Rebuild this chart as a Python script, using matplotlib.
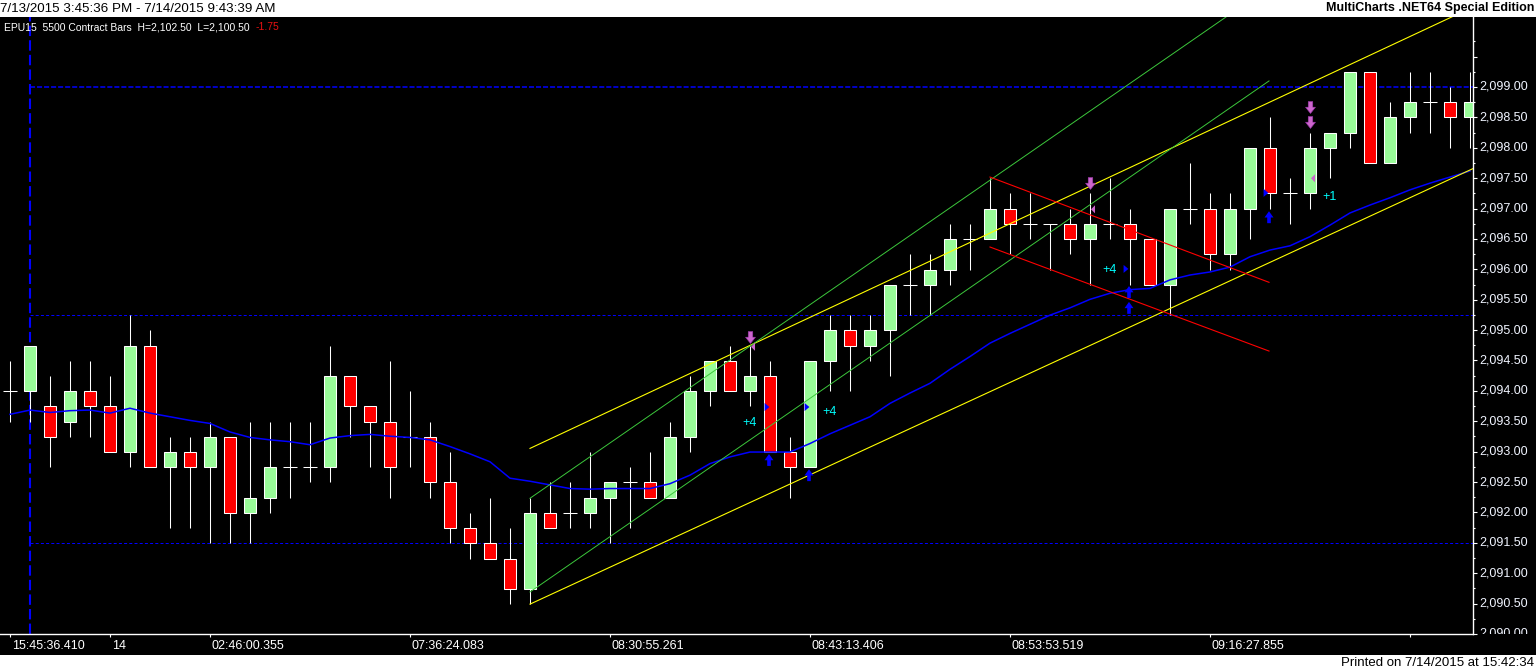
import numpy as np
import matplotlib
matplotlib.use("Agg")
import matplotlib.pyplot as plt
from matplotlib.path import Path
from matplotlib.patches import Rectangle
import matplotlib.transforms as mtrans

plt.rcParams['font.family'] = ['Liberation Sans', 'DejaVu Sans']

# ---------------- data ----------------
opens = [2094.0, 2094.0, 2093.75, 2093.5, 2094.0, 2093.75, 2093.0, 2094.75, 2092.75, 2093.0,
         2092.75, 2093.25, 2092.0, 2092.25, 2092.75, 2092.75, 2092.75, 2094.25, 2093.75, 2093.5,
         2093.25, 2093.25, 2092.5, 2091.75, 2091.5, 2091.25, 2090.75, 2092.0, 2092.0, 2092.0,
         2092.25, 2092.5, 2092.5, 2092.25, 2093.25, 2094.0, 2094.5, 2094.0, 2094.25, 2093.0,
         2092.75, 2094.5, 2095.0, 2094.75, 2095.0, 2095.75, 2095.75, 2096.0, 2096.5, 2096.5,
         2097.0, 2096.75, 2096.75, 2096.75, 2096.5, 2096.75, 2096.75, 2096.5, 2095.75, 2097.0,
         2097.0, 2096.25, 2097.0, 2098.0, 2097.25, 2097.25, 2098.0, 2098.25, 2099.25, 2097.75,
         2098.5, 2098.75, 2098.75, 2098.5]
highs = [2094.5, 2094.75, 2094.25, 2094.5, 2094.5, 2094.25, 2095.25, 2095.0, 2093.25, 2093.25,
         2093.5, 2093.25, 2093.5, 2093.5, 2093.5, 2093.5, 2094.75, 2094.25, 2093.75, 2094.5,
         2094.0, 2093.5, 2093.0, 2092.0, 2092.25, 2091.75, 2092.25, 2092.5, 2092.5, 2093.0,
         2092.5, 2092.75, 2093.0, 2093.5, 2094.25, 2094.5, 2094.75, 2094.75, 2094.5, 2093.25,
         2094.5, 2095.25, 2095.25, 2095.25, 2095.75, 2096.25, 2096.25, 2096.75, 2096.75, 2097.5,
         2097.25, 2097.25, 2096.75, 2097.0, 2097.25, 2097.5, 2097.0, 2096.5, 2097.0, 2097.75,
         2097.25, 2097.25, 2098.0, 2098.5, 2097.5, 2098.25, 2098.25, 2099.25, 2099.25, 2098.75,
         2099.25, 2099.25, 2099.0, 2099.25]
lows = [2093.5, 2093.5, 2092.75, 2093.25, 2093.25, 2093.0, 2092.75, 2092.75, 2091.75, 2091.75,
        2091.5, 2091.5, 2091.5, 2092.0, 2092.25, 2092.5, 2092.5, 2093.25, 2092.75, 2092.25,
        2092.75, 2092.25, 2091.5, 2091.25, 2091.25, 2090.5, 2090.5, 2091.75, 2091.75, 2091.75,
        2091.5, 2091.75, 2092.25, 2092.25, 2093.0, 2093.75, 2094.0, 2093.75, 2093.0, 2092.25,
        2092.75, 2094.0, 2094.0, 2094.5, 2094.25, 2095.25, 2095.25, 2095.75, 2096.0, 2096.5,
        2096.25, 2096.5, 2096.0, 2096.25, 2095.75, 2096.5, 2095.75, 2095.75, 2095.25, 2096.75,
        2096.0, 2096.0, 2096.5, 2097.0, 2096.75, 2097.0, 2097.5, 2098.0, 2097.75, 2097.75,
        2098.25, 2098.25, 2098.0, 2098.0]
closes = [2094.0, 2094.75, 2093.25, 2094.0, 2093.75, 2093.0, 2094.75, 2092.75, 2093.0, 2092.75,
          2093.25, 2092.0, 2092.25, 2092.75, 2092.75, 2092.75, 2094.25, 2093.75, 2093.5, 2092.75,
          2093.25, 2092.5, 2091.75, 2091.5, 2091.25, 2090.75, 2092.0, 2091.75, 2092.0, 2092.25,
          2092.5, 2092.5, 2092.25, 2093.25, 2094.0, 2094.5, 2094.0, 2094.25, 2093.0, 2092.75,
          2094.5, 2095.0, 2094.75, 2095.0, 2095.75, 2095.75, 2096.0, 2096.5, 2096.5, 2097.0,
          2096.75, 2096.75, 2096.75, 2096.5, 2096.75, 2096.75, 2096.5, 2095.75, 2097.0, 2097.0,
          2096.25, 2097.0, 2098.0, 2097.25, 2097.25, 2098.0, 2098.25, 2099.25, 2097.75, 2098.5,
          2098.75, 2098.75, 2098.5, 2098.75]
moving_avg = [2093.62, 2093.69, 2093.65, 2093.68, 2093.69, 2093.64, 2093.72, 2093.64, 2093.58, 2093.52,
              2093.47, 2093.33, 2093.24, 2093.20, 2093.17, 2093.12, 2093.23, 2093.27, 2093.29, 2093.26,
              2093.24, 2093.20, 2093.09, 2092.97, 2092.84, 2092.57, 2092.52, 2092.46, 2092.40, 2092.39,
              2092.40, 2092.40, 2092.40, 2092.48, 2092.62, 2092.81, 2092.92, 2093.00, 2093.00, 2093.00,
              2093.14, 2093.30, 2093.44, 2093.58, 2093.80, 2093.97, 2094.13, 2094.36, 2094.57, 2094.79,
              2094.95, 2095.10, 2095.25, 2095.37, 2095.51, 2095.61, 2095.67, 2095.69, 2095.83, 2095.91,
              2095.96, 2096.04, 2096.21, 2096.32, 2096.39, 2096.54, 2096.73, 2096.93, 2097.06, 2097.18,
              2097.31, 2097.42, 2097.52, 2097.62]

# trend lines: (bar, price) endpoints
yellow_upper = [(26, 2093.06), (75, 2100.60)]
yellow_lower = [(26, 2090.50), (75, 2097.94)]
green_upper = [(26, 2092.24), (62.95, 2100.64)]
green_lower = [(26, 2090.70), (62.95, 2099.10)]
red_upper = [(49, 2097.52), (62.95, 2095.79)]
red_lower = [(49, 2096.37), (62.95, 2094.66)]

# horizontal dashed levels
levels = [2099.0, 2095.25, 2091.5]
cursor_bar = 1

# signal markers
pink_down_x = [37, 54, 65, 65]
pink_down_y = [2094.89, 2097.42, 2098.42, 2098.67]
pink_left_x = [37.15, 54.15, 65.15]
pink_left_y = [2094.73, 2096.99, 2097.50]
blue_right_x = [37.85, 39.85, 55.8, 62.8]
blue_right_y = [2093.74, 2093.74, 2096.01, 2097.26]
blue_up_x = [37.95, 39.95, 55.95, 55.95, 62.95]
blue_up_y = [2092.87, 2092.62, 2095.63, 2095.37, 2096.86]
sig_text_x = [37.0, 41.0, 55.0, 66.0]
sig_text_y = [2093.48, 2093.65, 2095.99, 2097.19]
sig_text = ["+4", "+4", "+4", "+1"]

time_tick_bars = [0, 5, 10, 20, 30, 40, 50, 60, 70]
time_tick_labels = ["15:45:36.410", "14", "02:46:00.355", "07:36:24.083", "08:30:55.261",
                    "08:43:13.406", "08:53:53.519", "09:16:27.855", ""]
price_major = list(np.arange(2090.0, 2099.51, 0.5))
price_minor = list(np.arange(2090.25, 2099.80, 0.5))
price_labels = [2090.0, 2090.5, 2091.0, 2091.5, 2092.0, 2092.5, 2093.0, 2093.5, 2094.0,
                2094.5, 2095.0, 2095.5, 2096.0, 2096.5, 2097.0, 2097.5, 2098.0, 2098.5, 2099.0]

# ---------------- figure ----------------
W, H = 1536, 670
fig = plt.figure(figsize=(W / 100, H / 100), dpi=100, facecolor='black')

def fx(px):
    return px / W

def fy(py):
    return 1 - py / H

# white header and footer bands
fig.patches.append(Rectangle((0, fy(17)), 1, 17 / H, transform=fig.transFigure,
                             facecolor='white', edgecolor='none', zorder=0))
fig.patches.append(Rectangle((0, 0), 1, 15 / H, transform=fig.transFigure,
                             facecolor='white', edgecolor='none', zorder=0))

ax = fig.add_axes([0, fy(634), fx(1473), (634 - 17) / H])
ax.set_facecolor('black')
ax.set_xlim(-0.5, 73.15)
ax.set_ylim(2090.009, 2100.151)

x = np.arange(len(opens))
o = np.array(opens); h = np.array(highs); l = np.array(lows); c = np.array(closes)

# dashed levels and cursor (behind the bars)
ax.hlines(levels[0], cursor_bar, 80, color='#0000FF', lw=1.1,
          linestyles=[(0, (3.3, 1.3))], zorder=1)
ax.hlines(levels[1:], cursor_bar, 80, color='#0000FF', lw=0.72,
          linestyles=[(0, (3, 2.2))], zorder=1)
ax.axvline(cursor_bar, color='#0000FF', lw=1.5, linestyle=(0, (5, 2)), zorder=1)

# wicks
ax.vlines(x, l, h, color='white', lw=0.75, zorder=2)
# bodies
up = c > o
dn = c < o
dj = c == o
ax.bar(x[up], (c - o)[up], bottom=o[up], width=0.57, color='#98FB98',
       edgecolor='white', linewidth=0.75, zorder=3)
ax.bar(x[dn], (o - c)[dn], bottom=c[dn], width=0.57, color='#FF0000',
       edgecolor='white', linewidth=0.75, zorder=3)
ax.hlines(c[dj], x[dj] - 0.35, x[dj] + 0.35, color='white', lw=0.75, zorder=3)

# moving average
ax.plot(x, moving_avg, color='#0000FF', lw=1.1, zorder=5)

# trend lines
for seg, col, lw in [(yellow_upper, '#FFFF00', 0.8), (yellow_lower, '#FFFF00', 0.8),
                     (green_upper, '#3CC83C', 0.7), (green_lower, '#3CC83C', 0.7),
                     (red_upper, '#FF0000', 0.8), (red_lower, '#FF0000', 0.8)]:
    ax.plot([seg[0][0], seg[1][0]], [seg[0][1], seg[1][1]], color=col, lw=lw, zorder=5)

# markers
down_arrow = Path([(-0.38, 1), (0.38, 1), (0.38, 0.05), (0.83, 0.05), (0, -1),
                   (-0.83, 0.05), (-0.38, 0.05), (-0.38, 1)], closed=True)
up_arrow = Path([(-0.3, -1), (0.3, -1), (0.3, -0.05), (0.75, -0.05), (0, 1),
                 (-0.75, -0.05), (-0.3, -0.05), (-0.3, -1)], closed=True)
left_tri = Path([(0.5, 1), (0.5, -1), (-0.5, 0), (0.5, 1)], closed=True)
right_tri = Path([(-0.6, 1), (-0.6, -1), (0.6, 0), (-0.6, 1)], closed=True)

ax.scatter(pink_down_x, pink_down_y, marker=down_arrow, s=8.6 ** 2, c='#CC66CC',
           edgecolors='#9933AA', linewidths=0.4, zorder=6)
ax.scatter(pink_left_x, pink_left_y, marker=left_tri, s=5.8 ** 2, c='#CC66CC',
           edgecolors='none', zorder=6)
ax.scatter(blue_right_x, blue_right_y, marker=right_tri, s=5.8 ** 2, c='#0000FF',
           edgecolors='none', zorder=6)
ax.scatter(blue_up_x, blue_up_y, marker=up_arrow, s=8.6 ** 2, c='#0000FF',
           edgecolors='none', zorder=6)
for tx, ty, tt in zip(sig_text_x, sig_text_y, sig_text):
    ax.text(tx, ty, tt, color='#00FFFF', fontsize=9, ha='center', va='center', zorder=7)

# axes styling
for s in ['top', 'right', 'left']:
    ax.spines[s].set_visible(False)
ax.spines['bottom'].set_color('white')
ax.spines['bottom'].set_linewidth(1.0)
ax.set_yticks([])
ax.set_xticks(time_tick_bars)
ax.set_xticklabels([])
ax.tick_params(axis='x', direction='out', length=2.4, width=0.8, color='white')
blend = mtrans.blended_transform_factory(ax.transData, ax.transAxes)
for tb, tl in zip(time_tick_bars, time_tick_labels):
    ax.text(tb + 0.1, -0.0195, tl, transform=blend, color='white', fontsize=9,
            ha='left', va='center', clip_on=False)

# price scale
ax2 = fig.add_axes([fx(1473), fy(634), fx(63), (634 - 17) / H])
ax2.set_facecolor('black')
ax2.set_ylim(ax.get_ylim())
ax2.set_xlim(0, 1)
for s in ['top', 'right', 'bottom']:
    ax2.spines[s].set_visible(False)
ax2.spines['left'].set_color('white')
ax2.spines['left'].set_linewidth(1.0)
ax2.set_xticks([])
ax2.set_yticks(price_major)
ax2.set_yticks(price_minor, minor=True)
ax2.set_yticklabels([])
ax2.tick_params(axis='y', which='major', direction='in', length=2.6, width=0.8, color='white')
ax2.tick_params(axis='y', which='minor', direction='in', length=1.5, width=0.8, color='white')
for p in price_labels:
    ax2.text(0.095, p, f"{p:,.2f}", color='#F0F4FF', fontsize=9, ha='left', va='center',
             clip_on=True)

# header / footer texts
fig.text(fx(0), fy(8.5), "7/13/2015 3:45:36 PM - 7/14/2015 9:43:39 AM", color='black',
         fontsize=9.6, ha='left', va='center')
fig.text(fx(1534), fy(8.5), "MultiCharts .NET64 Special Edition", color='black',
         fontsize=9, fontweight='bold', ha='right', va='center')
fig.text(fx(1534), fy(663), "Printed on 7/14/2015 at 15:42:34", color='black',
         fontsize=9.5, ha='right', va='center')
legend_txt = fig.text(fx(4), fy(27.5), "EPU15  5500 Contract Bars  H=2,102.50  L=2,100.50",
                      color='white', fontsize=7.5, ha='left', va='center', zorder=5)
fig.canvas.draw()
bb = legend_txt.get_window_extent(renderer=fig.canvas.get_renderer())
fig.text((bb.x1 + 6) / W, fy(27.5), "-1.75", color='#E81010', fontsize=7.5,
         ha='left', va='center', zorder=5)

fig.savefig("out.png", dpi=100, facecolor='black')
